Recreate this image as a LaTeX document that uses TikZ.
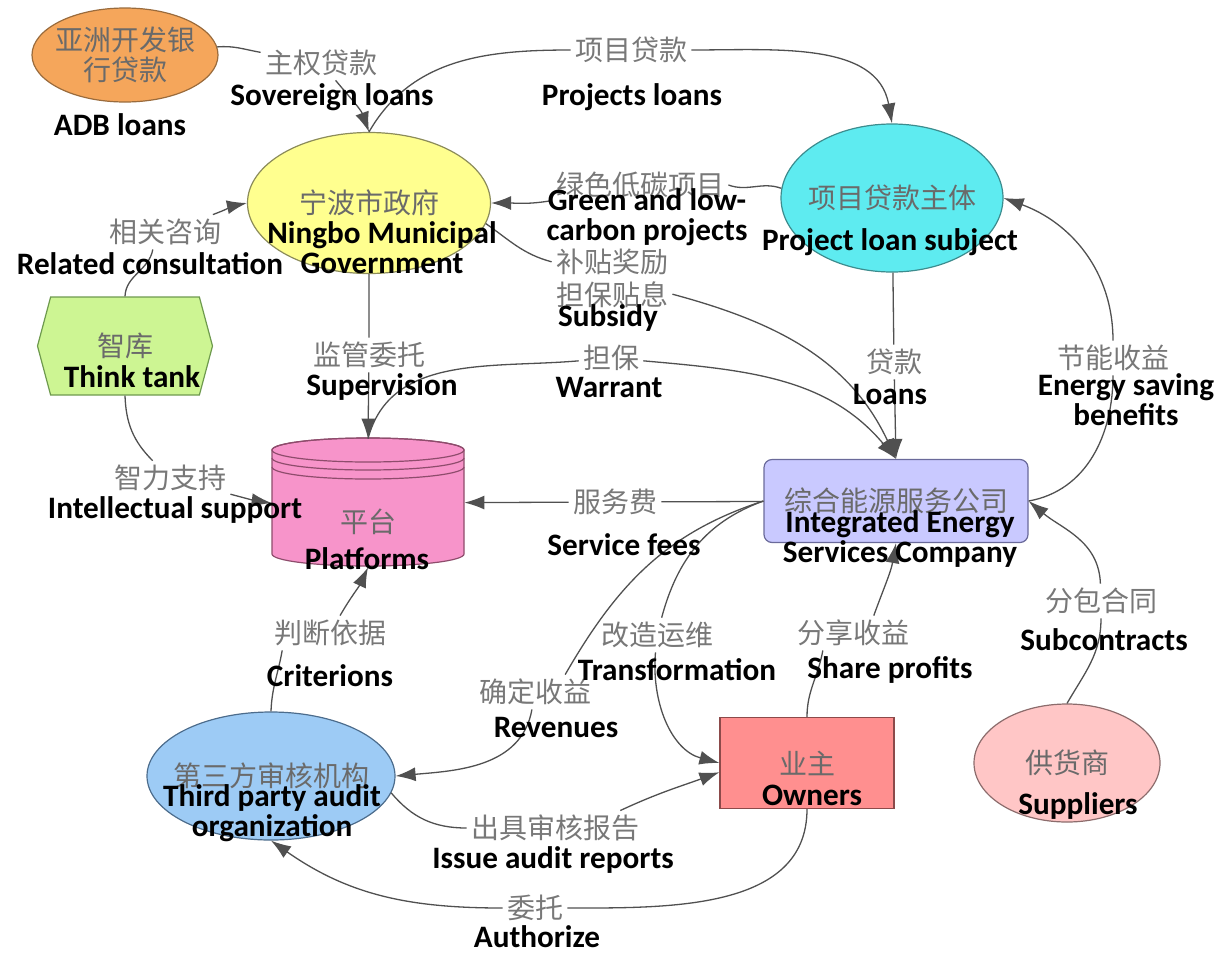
\documentclass[tikz,border=0pt]{standalone}
\usepackage{fontspec}
\setmainfont{Carlito}
\newfontfamily\cjk{Noto Sans CJK SC}
\usepackage{xcolor}
\usepackage{tikz}
\usetikzlibrary{arrows.meta,shapes.geometric,shapes.symbols}

\definecolor{adbfill}{HTML}{F5A65B}   \definecolor{adbline}{HTML}{9A6B3C}
\definecolor{govfill}{HTML}{FFFF8F}   \definecolor{govline}{HTML}{8C8C5A}
\definecolor{projfill}{HTML}{5EEBF0}  \definecolor{projline}{HTML}{3C8C8E}
\definecolor{thinkfill}{HTML}{CDF593} \definecolor{thinkline}{HTML}{6E9A4E}
\definecolor{platfill}{HTML}{F794CA}  \definecolor{platline}{HTML}{8E4C6C}
\definecolor{iescfill}{HTML}{C9C9FF}  \definecolor{iescline}{HTML}{6A6A9A}
\definecolor{ownerfill}{HTML}{FF8F8F} \definecolor{ownerline}{HTML}{8C4A4A}
\definecolor{auditfill}{HTML}{9DCBF5} \definecolor{auditline}{HTML}{4C6C8C}
\definecolor{suppfill}{HTML}{FFC6C6}  \definecolor{suppline}{HTML}{8C6C6C}
\definecolor{edgegray}{HTML}{505050}
\definecolor{labgray}{HTML}{787878}
\definecolor{intext}{HTML}{6A6A6A}

\begin{document}
\begin{tikzpicture}[
    >={Latex[length=10pt,width=7pt]},
    x=0.5pt, y=-0.5pt,
    entity/.style={line width=0.6pt,inner sep=0pt,align=center,
                   font=\cjk\fontsize{14}{15}\selectfont,text=intext},
    oval/.style={entity,ellipse,inner xsep=-8pt,fill=#1fill,draw=#1line},
    rectbox/.style={entity,rectangle,fill=#1fill,draw=#1line},
    flow/.style={->,draw=edgegray,line width=0.65pt},
    cnlab/.style={font=\cjk\fontsize{14}{16.5}\selectfont,text=labgray,
                  inner sep=2pt,align=center},
    enlab/.style={font=\bfseries\fontsize{15.6}{15}\selectfont,align=center,
                  inner sep=0pt},
  ]
  \useasboundingbox (0,0) rectangle (1220,954);

  % --- actors ---
  \node[oval=adb,minimum width=93pt,minimum height=47pt] (adb) at (125,55) {亚洲开发银\\行贷款};
  \node[oval=gov,minimum width=121.5pt,minimum height=70.5pt] (gov) at (369,203) {宁波市政府};
  \node[oval=proj,minimum width=111pt,minimum height=74pt] (proj) at (892,198) {项目贷款主体};
  \node[entity,signal,signal to=west and east,signal pointer angle=150,
        fill=thinkfill,draw=thinkline,minimum width=87.5pt,minimum height=49pt] (think) at (125,346) {智库};
  \node[rectbox=iesc,rounded corners=4pt,minimum width=132pt,minimum height=41.5pt] (iesc) at (896,501) {综合能源服务公司};
  \node[rectbox=owner,minimum width=87pt,minimum height=45.5pt] (owner) at (807,763) {业主};
  \node[oval=audit,minimum width=124pt,minimum height=64pt] (audit) at (271,776) {第三方审核机构};
  \node[oval=supp,minimum width=93pt,minimum height=59pt] (supp) at (1067,763) {供货商};

  % --- platform cylinder ---
  \node[minimum width=96pt,minimum height=64pt,inner sep=0pt] (plat) at (368,503) {};
  \filldraw[fill=platfill,draw=platline,line width=0.6pt]
    (272,450) -- (272,554) arc[start angle=180,end angle=360,x radius=48pt,y radius=6pt]
    -- (464,450) arc[start angle=0,end angle=180,x radius=48pt,y radius=6pt] -- cycle;
  \draw[platline,line width=0.6pt] (368,450) ellipse[x radius=48pt,y radius=6pt];
  \draw[platline,line width=0.6pt] (272,458) arc[start angle=180,end angle=360,x radius=48pt,y radius=6pt];
  \draw[platline,line width=0.6pt] (272,467) arc[start angle=180,end angle=360,x radius=48pt,y radius=6pt];
  \node[entity] (platcn) at (368,522) {平台};

  % --- chinese edge labels ---
  \node[cnlab] (lsov) at (321,63) {主权贷款};
  \node[cnlab] (lproj) at (631,50) {项目贷款};
  \node[cnlab] (lgreen) at (640,185) {绿色低碳项目};
  \node[cnlab] (lsub) at (612,278) {补贴奖励\\担保贴息};
  \node[cnlab] (lloan) at (894,362) {贷款};
  \node[cnlab] (lwar) at (611,358) {担保};
  \node[cnlab] (lsup) at (369,355) {监管委托};
  \node[cnlab] (lrel) at (165,232) {相关咨询};
  \node[cnlab] (lint) at (170,478) {智力支持};
  \node[cnlab] (lfee) at (615,502) {服务费};
  \node[cnlab] (ltra) at (657,635) {改造运维};
  \node[cnlab] (lrev) at (535,692) {确定收益};
  \node[cnlab] (lshare) at (853,633) {分享收益};
  \node[cnlab] (lsubc) at (1101,601) {分包合同};
  \node[cnlab] (lenergy) at (1113,358) {节能收益};
  \node[cnlab] (lcri) at (330,633) {判断依据};
  \node[cnlab] (liss) at (555,828) {出具审核报告};
  \node[cnlab] (lauth) at (535,908) {委托};

  % --- money and project flows (top) ---
  \draw[flow] (adb) to[out=5,in=170] (lsov) to[out=-50,in=110] (gov.north);
  \draw[flow] (gov.north) to[out=60,in=180] (lproj) to[out=0,in=100] (proj.north);
  \draw[flow] (proj.175) to[out=160,in=-20] (lgreen.east) (lgreen) to[out=190,in=0] (gov.east);
  \draw[flow] (gov.-10) to[out=-35,in=165] (lsub) to[out=-15,in=115] (iesc.north);
  \draw[flow] (plat.north) to[out=75,in=185] (lwar) to[out=-5,in=130] (iesc.north);
  \draw[flow] (proj) -- (lloan) -- (iesc.north);
  \draw[flow] (gov) -- (lsup) -- (plat.north);

  % --- think tank ---
  \draw[flow] (think.north) to[out=88,in=-100] (lrel.-125) (lrel) to[out=20,in=192] (gov.west);
  \draw[flow] (think.south) to[out=-88,in=135] (lint) to[out=-15,in=172] (plat.west);

  % --- company, owners and audit ---
  \draw[flow] (iesc) -- (lfee) -- (plat);
  \draw[flow] (iesc.west) to[out=200,in=75] (ltra) to[out=-95,in=165] (owner.west);
  \draw[flow] (iesc.west) to[out=198,in=60] (lrev.30) (lrev) to[out=-100,in=5] (audit.east);
  \draw[flow] (owner.north) to[out=90,in=-100] (lshare.210) (lshare.40) to[out=70,in=-100] (iesc.south);
  \draw[flow] (supp.north) to[out=60,in=-90] (lsubc) to[out=92,in=-40] (iesc.east);
  \draw[flow] (iesc.east) to[out=10,in=-90] (lenergy) to[out=90,in=-20] (proj.east);
  \draw[flow] (audit.north) to[out=88,in=-100] (lcri.200) (lcri) to[out=60,in=-115] (plat.south);
  \draw[flow] (audit.-8) to[out=-50,in=180] (liss) (liss.15) to[out=25,in=200] (owner.186);
  \draw[flow] (owner.south) to[out=-90,in=0] (lauth) to[out=180,in=-35] (audit.south);

  % --- english captions ---
  \node[enlab] (eadb) at (120,125) {ADB loans};
  \node[enlab] (esov) at (332,97) {Sovereign loans};
  \node[enlab] (eproj) at (632,97) {Projects loans};
  \node[enlab] (egov) at (382,248) {Ningbo Municipal\\Government};
  \node[enlab] (egreen) at (647,217) {Green and low-\\carbon projects};
  \node[enlab] (eprojs) at (890,242) {Project loan subject};
  \node[enlab] (erel) at (150,264) {Related consultation};
  \node[enlab] (ethink) at (132,377) {Think tank};
  \node[enlab] (esub) at (608,318) {Subsidy};
  \node[enlab] (esup) at (382,387) {Supervision};
  \node[enlab] (ewar) at (609,387) {Warrant};
  \node[enlab] (eloan) at (890,394) {Loans};
  \node[enlab] (eenergy) at (1126,400) {Energy saving\\benefits};
  \node[enlab] (eint) at (175,510) {Intellectual support};
  \node[enlab] (eplat) at (367,559) {Platforms};
  \node[enlab] (efee) at (624,545) {Service fees};
  \node[enlab] (eiesc) at (900,539) {Integrated Energy\\Services Company};
  \node[enlab] (ecri) at (330,676) {Criterions};
  \node[enlab] (etra) at (677,670) {Transformation};
  \node[enlab] (eshare) at (890,670) {Share profits};
  \node[enlab] (esubc) at (1104,640) {Subcontracts};
  \node[enlab] (erev) at (556,727) {Revenues};
  \node[enlab] (eowner) at (812,795) {Owners};
  \node[enlab] (eaudit) at (272,813) {Third party audit\\organization};
  \node[enlab] (esupp) at (1078,806) {Suppliers};
  \node[enlab] (eiss) at (553,860) {Issue audit reports};
  \node[enlab] (eauth) at (537,937) {Authorize};

\end{tikzpicture}
\end{document}
